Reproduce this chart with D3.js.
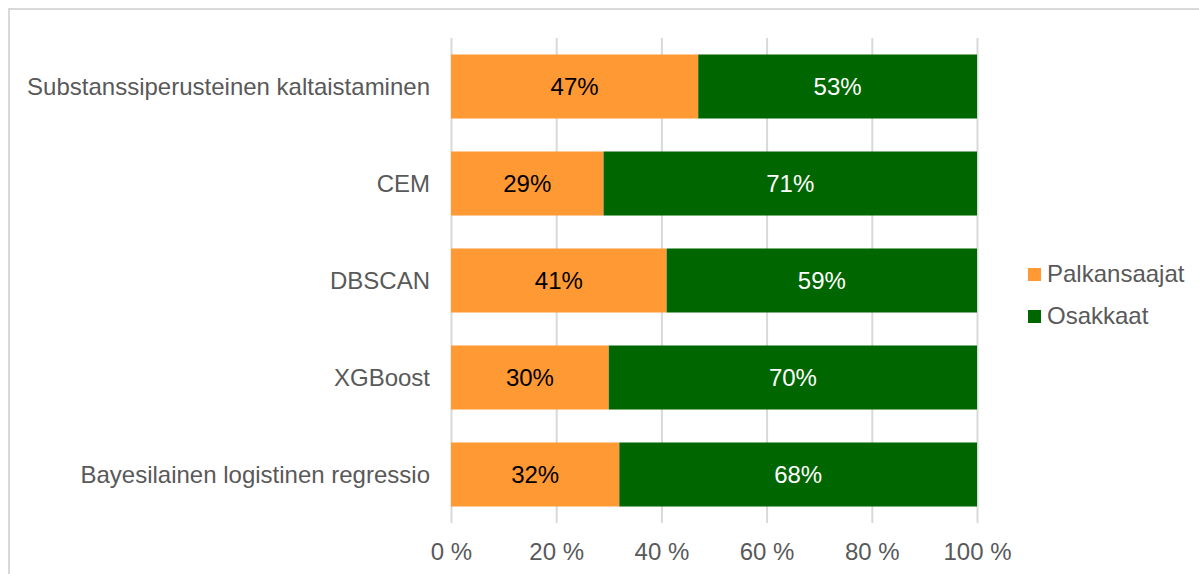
<!DOCTYPE html>
<html lang="fi">
<head>
    <meta charset="UTF-8">
    <script src="https://d3js.org/d3.v7.min.js"></script>
    <title>Palkansaajat ja osakkaat</title>
    <style>
        body { margin: 0; background: #fff; }
        text { font-family: "Liberation Sans", Arial, sans-serif; }
    </style>
</head>
<body>
    <div id="chart"></div>
<script>
    // data
    const categories = ["Substanssiperusteinen kaltaistaminen", "CEM", "DBSCAN", "XGBoost", "Bayesilainen logistinen regressio"];
    const palkansaajat = [47, 29, 41, 30, 32];
    const osakkaat = [53, 71, 59, 70, 68];
    const seriesNames = ["Palkansaajat", "Osakkaat"];
    const tickValues = [0, 20, 40, 60, 80, 100];

    const W = 1199, H = 574;
    const colors = ["#FF9933", "#006600"];
    const labelColors = ["#000000", "#ffffff"];

    const svg = d3.select("#chart").append("svg")
        .attr("width", W)
        .attr("height", H);

    // outer frame (cut off at right and bottom)
    svg.append("rect")
        .attr("x", 9).attr("y", 9)
        .attr("width", 1300).attr("height", 700)
        .attr("fill", "none")
        .attr("stroke", "#d9d9d9")
        .attr("stroke-width", 2);

    const x = d3.scaleLinear().domain([0, 100]).range([451, 977]);
    const y = d3.scaleBand().domain(categories).range([38, 523])
        .paddingInner(0.34).paddingOuter(0.17);

    // gridlines + tick labels
    const xAxis = svg.append("g")
        .attr("transform", "translate(0,523)")
        .call(d3.axisBottom(x).tickValues(tickValues).tickSize(-485).tickPadding(20)
            .tickFormat(d => d + " %"));
    xAxis.select(".domain").remove();
    xAxis.selectAll(".tick line").attr("stroke", "#d9d9d9").attr("stroke-width", 2);
    xAxis.selectAll(".tick text")
        .attr("fill", "#595959")
        .style("font-size", "24px")
        .attr("dy", "0.71em");

    // stacked bars
    const rows = categories.map((c, i) => ({cat: c, vals: [palkansaajat[i], osakkaat[i]]}));
    const segs = [];
    rows.forEach(r => {
        let start = 0;
        r.vals.forEach((v, k) => {
            segs.push({cat: r.cat, k: k, x0: start, x1: start + v, v: v});
            start += v;
        });
    });

    svg.append("g").selectAll("rect").data(segs).enter()
        .append("rect")
        .attr("x", d => x(d.x0))
        .attr("y", d => y(d.cat))
        .attr("width", d => x(d.x1) - x(d.x0))
        .attr("height", y.bandwidth())
        .attr("fill", d => colors[d.k]);

    svg.append("g").selectAll("text").data(segs).enter()
        .append("text")
        .attr("x", d => (x(d.x0) + x(d.x1)) / 2)
        .attr("y", d => y(d.cat) + y.bandwidth() / 2)
        .attr("dy", "0.35em")
        .attr("text-anchor", "middle")
        .style("font-size", "24px")
        .attr("fill", d => labelColors[d.k])
        .text(d => d.v + "%");

    // category labels
    svg.append("g").selectAll("text").data(categories).enter()
        .append("text")
        .attr("x", 430)
        .attr("y", d => y(d) + y.bandwidth() / 2)
        .attr("dy", "0.35em")
        .attr("text-anchor", "end")
        .style("font-size", "24px")
        .attr("fill", "#595959")
        .text(d => d);

    // legend
    const legend = svg.append("g").selectAll("g").data(seriesNames).enter()
        .append("g")
        .attr("transform", (d, i) => "translate(1028," + (268 + i * 42) + ")");
    legend.append("rect")
        .attr("width", 13).attr("height", 13)
        .attr("fill", (d, i) => colors[i]);
    legend.append("text")
        .attr("x", 19).attr("y", 14)
        .style("font-size", "24px")
        .attr("fill", "#595959")
        .text(d => d);
</script>
</body>
</html>
